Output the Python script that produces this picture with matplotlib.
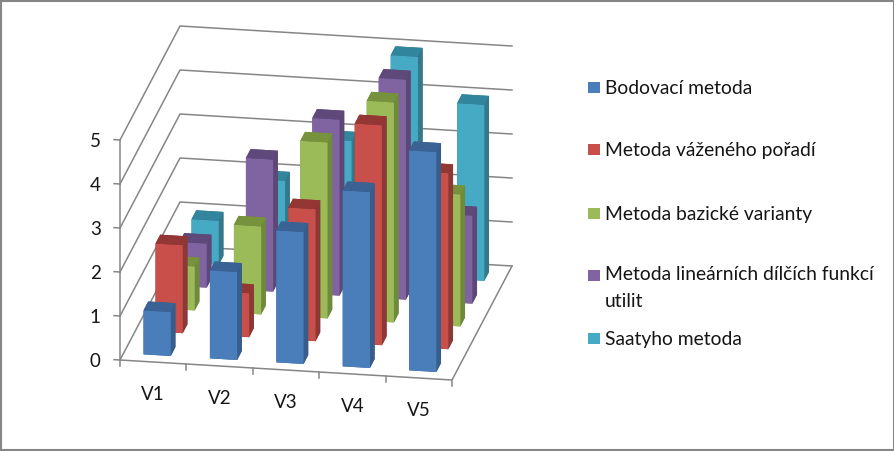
import numpy as np
import matplotlib
matplotlib.use("Agg")
import matplotlib.pyplot as plt
from matplotlib.patches import Rectangle

plt.rcParams['font.family'] = ['Lato', 'DejaVu Sans']

categories = ["V1", "V2", "V3", "V4", "V5"]
z_ticks = [0, 1, 2, 3, 4, 5]

bodovaci = [1, 2, 3, 4, 5]
vazene_poradi = [2, 1, 3, 5, 4]
bazicka_varianta = [1, 2, 4, 5, 3]
linearni_funkce = [1, 3, 4, 5, 2]
saaty = [1, 2, 3, 5, 4]

series = [bodovaci, vazene_poradi, bazicka_varianta, linearni_funkce, saaty]
series_names = ["Bodovací metoda", "Metoda váženého pořadí", "Metoda bazické varianty",
                "Metoda lineárních dílčích funkcí\nutilit", "Saatyho metoda"]

# front, side and top colour of the bars
front = ["#4A7EBB", "#C94F4B", "#9BBB59", "#8064A2", "#46AAC5"]
side = ["#385D8A", "#8C3836", "#6F8A3C", "#5C4776", "#34788A"]
top = ["#3A6294", "#943634", "#76923C", "#5F497A", "#31859C"]
legend_y = [87, 149, 213, 275, 338]

GREY = "#868686"
TEXT = "#151515"

fig = plt.figure(figsize=(8.95, 4.51), dpi=100)
ax = fig.add_axes([0, 0, 1, 1], projection='3d', computed_zorder=False)
ax.set_axis_off()
ax.set_proj_type('ortho')
ax.set_xticks([])
ax.set_yticks([])
ax.set_zticks([])

# excel style oblique view, data -> pixels of the figure
M = np.array([[66.4, 12.0, 0.0, 120.0],
              [4.0, -22.8, -44.0, 360.0],
              [-0.18, 1.0, -0.535, 0.0],
              [0.0, 0.0, 0.0, 1.0]])
ax.get_proj = lambda: M
ax.apply_aspect = lambda position=None: None
ax.viewLim.intervalx = (0, 895)
ax.viewLim.intervaly = (451, 0)

n_x = len(categories)
n_y = len(series)

# walls
for z in z_ticks:
    ax.plot([0, 0, n_x], [0, n_y, n_y], [z, z, z], color=GREY, lw=1.1, zorder=1)
ax.plot([0, n_x, n_x], [0, 0, n_y], [0, 0, 0], color=GREY, lw=1.1, zorder=1)
ax.plot([0, 0], [0, 0], [0, z_ticks[-1]], color=GREY, lw=1.1, zorder=1)

# ticks
for z in z_ticks:
    ax.plot([-0.09, 0], [0, 0], [z, z], color=GREY, lw=1.1, zorder=1)
    ax.text(-0.29, 0, z - 0.06, str(z), ha="right", va="center", fontsize=13.5, color=TEXT)
for i in range(n_x + 1):
    ax.plot([i, i], [0, 0], [0, -0.13], color=GREY, lw=1.1, zorder=1)
for i, name in enumerate(categories):
    ax.text(i + 0.5, 0, -0.75, name, ha="center", va="center", fontsize=13.5, color=TEXT)

# bars, back row first
bar_w = 0.41
bar_d = 0.39
order = 2
for j in range(n_y - 1, -1, -1):
    for i in range(n_x):
        # faces: bottom, top, front, back, left, right
        cols = [side[j], top[j], front[j], side[j], side[j], side[j]]
        ax.bar3d(i + 0.3, j + 0.3, 0, bar_w, bar_d, series[j][i], color=cols, shade=False,
                 linewidth=0, zorder=order)
        order += 1

# legend
for name, col, y in zip(series_names, front, legend_y):
    fig.add_artist(Rectangle((588 / 895, 1 - (y + 6) / 451), 12 / 895, 11 / 451, color=col,
                             transform=fig.transFigure, lw=0))
    if "\n" in name:
        fig.text(605 / 895, 1 - (y - 9) / 451, name, ha="left", va="top",
                 fontsize=13.9, color=TEXT, linespacing=1.68)
    else:
        fig.text(605 / 895, 1 - (y + 1.5) / 451, name, ha="left", va="center",
                 fontsize=13.9, color=TEXT)

# outer frame of the chart
fig.add_artist(Rectangle((1 / 895, 1 / 451), 893 / 895, 449 / 451, fill=False, edgecolor=GREY,
                         lw=1.5, transform=fig.transFigure))

fig.savefig("out.png", dpi=100)
